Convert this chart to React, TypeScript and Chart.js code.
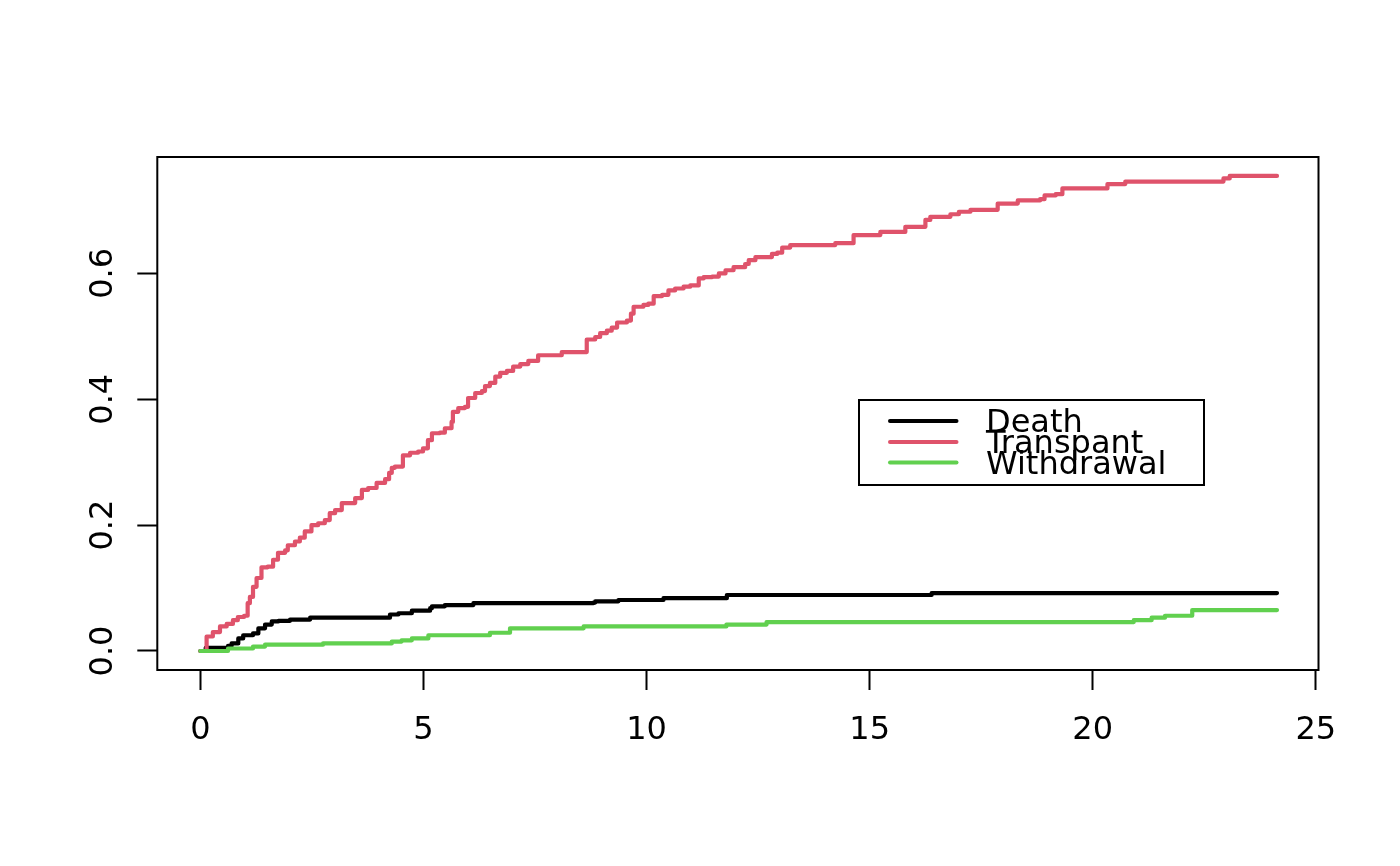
import React, { useEffect, useRef } from 'react';
import { Chart, registerables } from 'chart.js';

Chart.register(...registerables);

// cumulative incidence (time, value at each jump)
const deathTime = [0, 0.12, 0.62, 0.7, 0.85, 0.96, 1.18, 1.3, 1.45, 1.6, 1.75, 2.01, 2.46, 4.25, 4.44, 4.74, 5.15, 5.19, 5.48, 6.12, 8.81, 8.85, 9.37, 10.38, 11.8, 16.39, 24.13];
const deathCif = [0, 0.005, 0.008, 0.012, 0.02, 0.025, 0.028, 0.036, 0.042, 0.047, 0.048, 0.05, 0.053, 0.058, 0.06, 0.064, 0.068, 0.071, 0.073, 0.076, 0.077, 0.079, 0.081, 0.084, 0.089, 0.092, 0.092];

const transplantTime = [
  0, 0.14, 0.28, 0.44, 0.59, 0.73, 0.84, 0.98, 1.06, 1.11, 1.18, 1.26, 1.37, 1.51, 1.63, 1.74, 1.9, 1.96,
  2.12, 2.23, 2.34, 2.49, 2.64, 2.79, 2.9, 3.02, 3.17, 3.47, 3.62, 3.76, 3.95, 4.14, 4.23, 4.29, 4.36,
  4.54, 4.7, 4.88, 4.99, 5.1, 5.19, 5.37, 5.48, 5.63, 5.66, 5.78, 5.93, 6.0, 6.16, 6.31, 6.38, 6.49,
  6.61, 6.72, 6.87, 7.01, 7.17, 7.35, 7.57, 8.1, 8.66, 8.85, 8.96, 9.11, 9.22, 9.34, 9.56, 9.65, 9.71,
  9.93, 10.04, 10.16, 10.35, 10.49, 10.64, 10.83, 10.98, 11.17, 11.28, 11.47, 11.62, 11.77, 11.95,
  12.21, 12.29, 12.44, 12.81, 12.93, 13.04, 13.22, 14.23, 14.64, 15.24, 15.8, 16.25, 16.36, 16.81,
  17.0, 17.26, 17.87, 18.32, 18.82, 18.92, 19.17, 19.32, 20.33, 20.73, 22.93, 23.07, 24.13,
];
const transplantCif = [
  0, 0.023, 0.03, 0.039, 0.043, 0.049, 0.054, 0.056, 0.076, 0.086, 0.102, 0.116, 0.133, 0.134, 0.145, 0.156, 0.16, 0.168,
  0.174, 0.18, 0.19, 0.2, 0.203, 0.208, 0.219, 0.224, 0.235, 0.243, 0.256, 0.259, 0.267, 0.273, 0.283, 0.291, 0.293,
  0.311, 0.315, 0.317, 0.322, 0.335, 0.346, 0.347, 0.354, 0.364, 0.38, 0.386, 0.388, 0.402, 0.41, 0.413, 0.421, 0.426,
  0.436, 0.442, 0.445, 0.452, 0.456, 0.461, 0.47, 0.475, 0.495, 0.499, 0.505, 0.509, 0.514, 0.522, 0.525, 0.536, 0.547,
  0.55, 0.552, 0.564, 0.566, 0.573, 0.576, 0.579, 0.581, 0.592, 0.594, 0.595, 0.6, 0.605, 0.61,
  0.615, 0.621, 0.626, 0.631, 0.633, 0.641, 0.645, 0.648, 0.661, 0.666, 0.674, 0.685, 0.69, 0.694,
  0.698, 0.701, 0.711, 0.716, 0.718, 0.724, 0.726, 0.735, 0.742, 0.746, 0.751, 0.755, 0.755,
];

const withdrawalTime = [0, 0.62, 1.18, 1.45, 2.75, 4.29, 4.51, 4.74, 5.11, 6.49, 6.94, 8.59, 11.79, 12.69, 20.92, 21.32, 21.62, 22.23, 24.13];
const withdrawalCif = [0, 0.004, 0.007, 0.01, 0.012, 0.015, 0.017, 0.02, 0.025, 0.029, 0.036, 0.039, 0.042, 0.046, 0.049, 0.053, 0.056, 0.065, 0.065];

const seriesNames = ['Death', 'Transpant', 'Withdrawal'];
const seriesColors = ['#000000', '#DF536B', '#61D04F'];

const xTicks = [0, 5, 10, 15, 20, 25];
const xTickLabels = ['0', '5', '10', '15', '20', '25'];
const yTicks = [0, 0.2, 0.4, 0.6];
const yTickLabels = ['0.0', '0.2', '0.4', '0.6'];

const FONT = '32px "DejaVu Sans"';

const toPoints = (t: number[], v: number[]) => t.map((x, i) => ({ x, y: v[i] }));

// box round the plot, tick labels and the legend, drawn the way base R does
const rDecor = {
  id: 'rDecor',
  afterDraw(chart: any) {
    const { ctx, chartArea: a, scales } = chart;
    ctx.save();
    ctx.strokeStyle = '#000';
    ctx.lineWidth = 2;
    ctx.strokeRect(a.left, a.top, a.right - a.left, a.bottom - a.top);

    ctx.fillStyle = '#000';
    ctx.font = FONT;
    ctx.textAlign = 'center';
    ctx.textBaseline = 'alphabetic';
    xTicks.forEach((v, i) => {
      ctx.fillText(xTickLabels[i], scales.x.getPixelForValue(v), 738.5);
    });
    yTicks.forEach((v, i) => {
      ctx.save();
      ctx.translate(111.5, scales.y.getPixelForValue(v));
      ctx.rotate(-Math.PI / 2);
      ctx.fillText(yTickLabels[i], 0, 0);
      ctx.restore();
    });

    // legend
    ctx.strokeRect(859, 400, 345, 85);
    const lineY = [421, 442, 462.5];
    ctx.textAlign = 'left';
    ctx.lineCap = 'round';
    seriesNames.forEach((name, i) => {
      ctx.strokeStyle = seriesColors[i];
      ctx.lineWidth = 4;
      ctx.beginPath();
      ctx.moveTo(890, lineY[i]);
      ctx.lineTo(956.5, lineY[i]);
      ctx.stroke();
      ctx.fillText(name, 986, lineY[i] + 11);
    });
    ctx.restore();
  },
};

export default function App() {
  const canvasRef = useRef<HTMLCanvasElement | null>(null);
  const chartRef = useRef<Chart | null>(null);

  useEffect(() => {
    if (!canvasRef.current) return;
    const series = [
      toPoints(deathTime, deathCif),
      toPoints(transplantTime, transplantCif),
      toPoints(withdrawalTime, withdrawalCif),
    ];
    chartRef.current = new Chart(canvasRef.current, {
      type: 'line',
      data: {
        datasets: series.map((data, i) => ({
          label: seriesNames[i],
          data,
          borderColor: seriesColors[i],
          backgroundColor: seriesColors[i],
          borderWidth: 4.2,
          borderCapStyle: 'round',
          borderJoinStyle: 'round',
          stepped: 'before',
          pointRadius: 0,
          fill: false,
          order: 2 - i,
        })),
      },
      options: {
        animation: false,
        responsive: true,
        maintainAspectRatio: false,
        layout: { padding: { top: 157, right: 81.5, left: 0, bottom: 0 } },
        plugins: { legend: { display: false }, tooltip: { enabled: false } },
        scales: {
          x: {
            type: 'linear',
            min: -0.965,
            max: 25.06,
            afterBuildTicks: (s: any) => { s.ticks = xTicks.map((value) => ({ value })); },
            afterFit: (s: any) => { s.height = 196; },
            ticks: { display: false },
            border: { display: false },
            grid: { drawOnChartArea: false, drawTicks: true, tickLength: 20, tickWidth: 2, tickColor: '#000' },
          },
          y: {
            type: 'linear',
            min: -0.0302,
            max: 0.785,
            afterBuildTicks: (s: any) => { s.ticks = yTicks.map((value) => ({ value })); },
            afterFit: (s: any) => { s.width = 157.3; },
            ticks: { display: false },
            border: { display: false },
            grid: { drawOnChartArea: false, drawTicks: true, tickLength: 20, tickWidth: 2, tickColor: '#000' },
          },
        },
      },
      plugins: [rDecor],
    });
    return () => {
      chartRef.current?.destroy();
      chartRef.current = null;
    };
  }, []);

  return (
    <div style={{ position: 'absolute', left: 0, top: 0, width: 1400, height: 866, background: '#fff' }}>
      <canvas ref={canvasRef} />
    </div>
  );
}
